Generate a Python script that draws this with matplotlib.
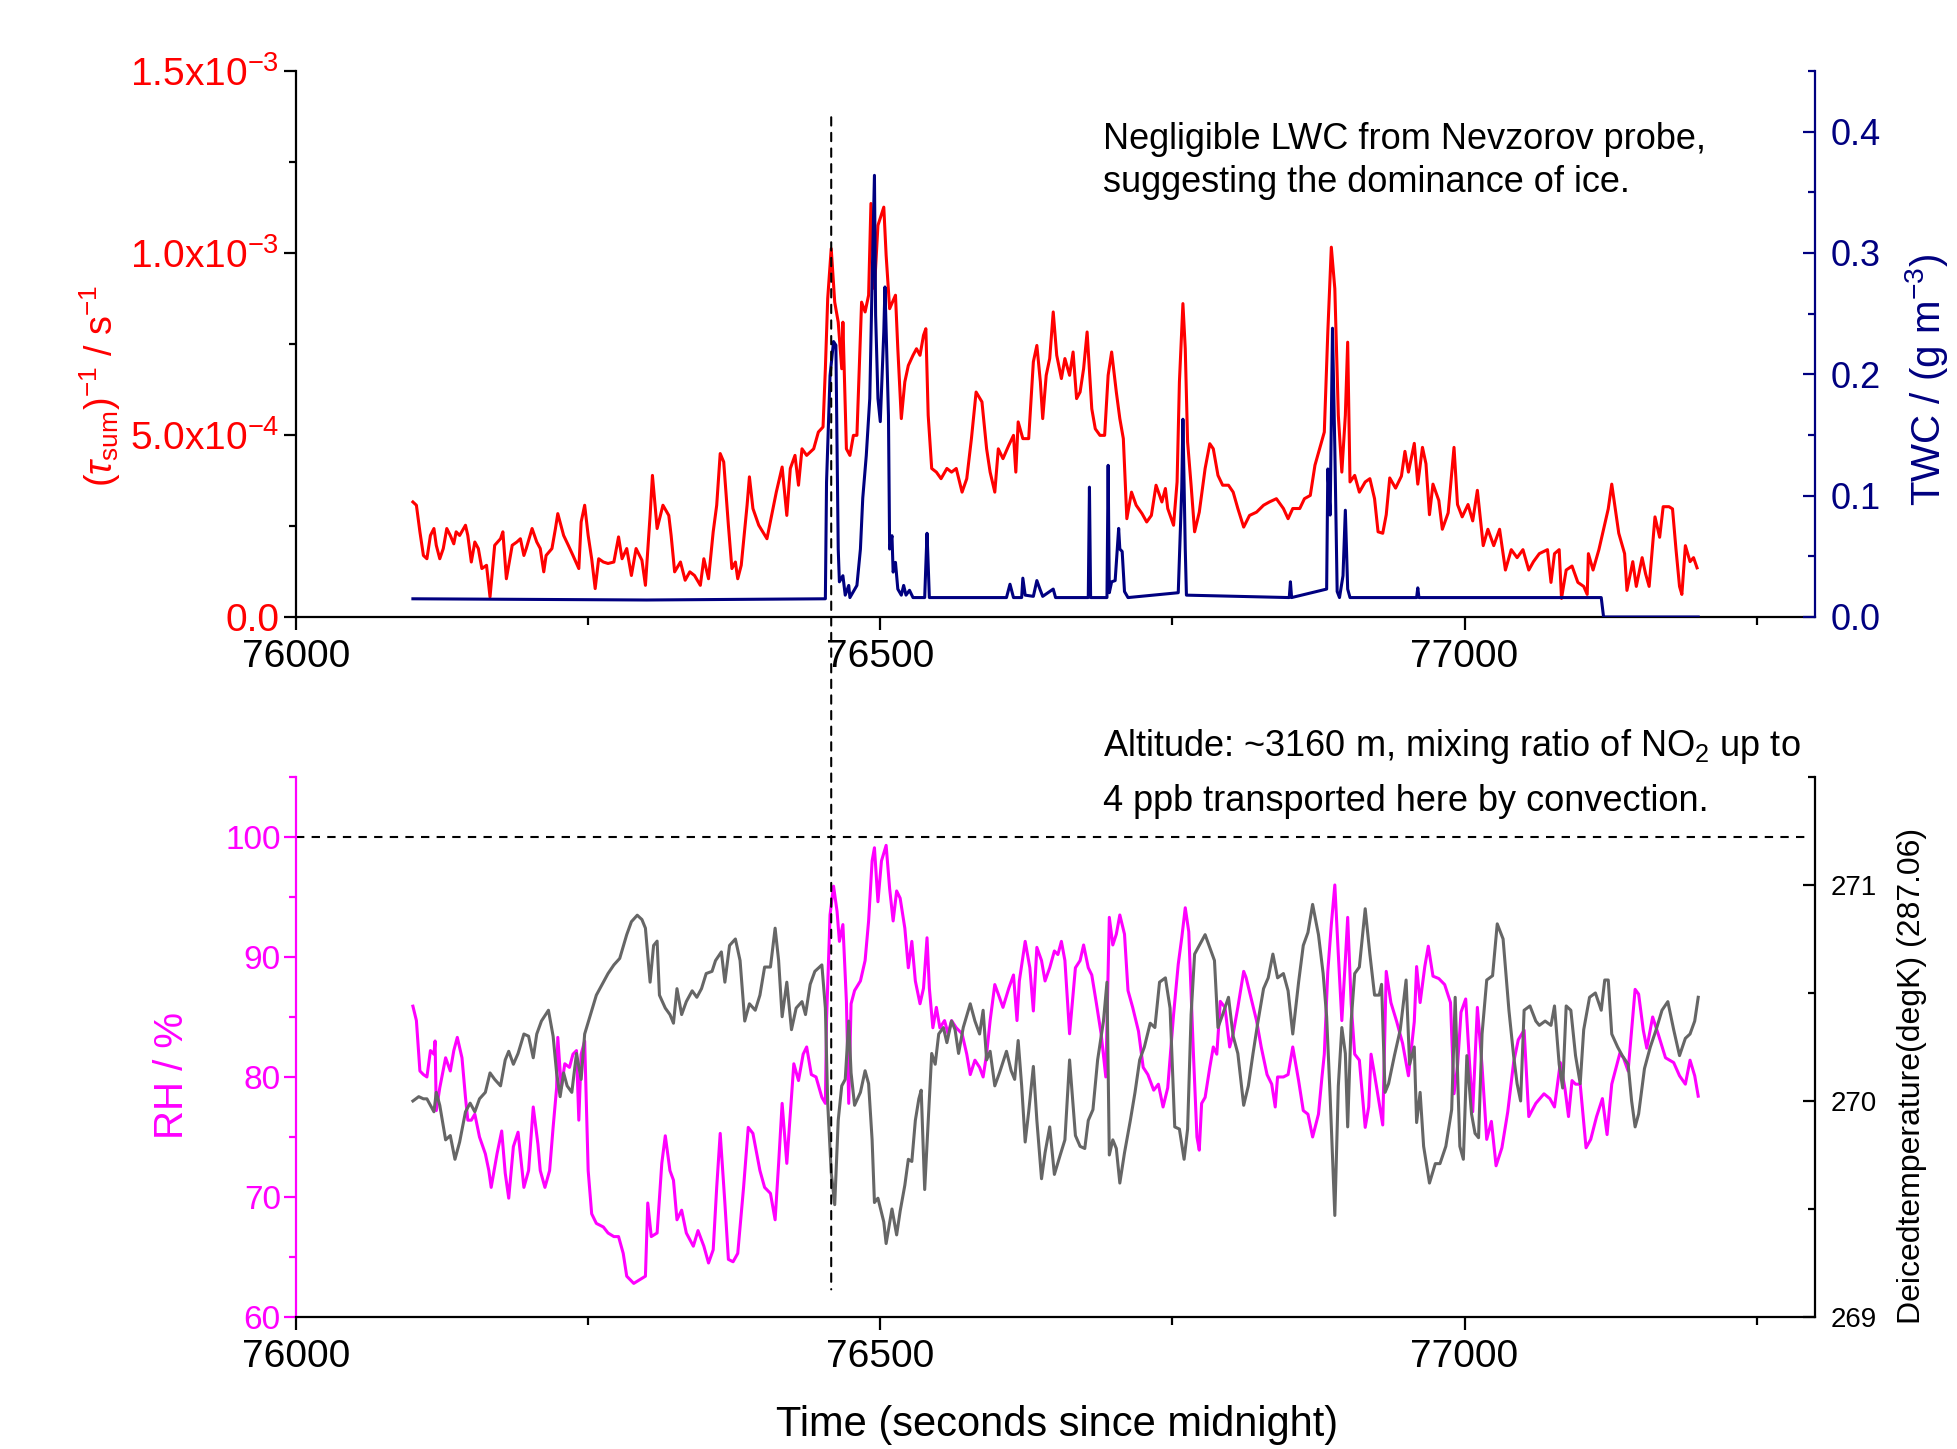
import numpy as np
import matplotlib
matplotlib.use('Agg')
from matplotlib import pyplot as plt
from matplotlib.patches import ConnectionPatch
from matplotlib.ticker import MultipleLocator, FixedLocator, FixedFormatter

plt.rcParams['font.family'] = ['Liberation Sans', 'DejaVu Sans']
plt.rcParams['mathtext.fontset'] = 'custom'
plt.rcParams['mathtext.rm'] = 'Liberation Sans'
plt.rcParams['mathtext.it'] = 'Liberation Sans:italic'
plt.rcParams['mathtext.bf'] = 'Liberation Sans:bold'

RED = '#ff0000'
NAVY = '#000080'
MAGENTA = '#ff00ff'
GREY = '#666666'

# (time s, inverse tau_sum in 1e-4 s^-1)
tau_pts = [
    (76100, 3.16), (76103, 3.07), (76106, 2.34), (76109, 1.69), (76112, 1.60), (76115, 2.24),
    (76118, 2.43), (76120, 1.97), (76123, 1.60), (76126, 1.88), (76129, 2.43), (76132, 2.24),
    (76135, 2.01), (76137, 2.34), (76140, 2.24), (76145, 2.52), (76147, 2.24), (76150, 1.51),
    (76153, 2.06), (76156, 1.88), (76159, 1.33), (76163, 1.42), (76166, 0.55), (76170, 1.97),
    (76175, 2.15), (76177, 2.34), (76180, 1.05), (76185, 1.97), (76189, 2.06), (76192, 2.15),
    (76195, 1.69), (76197, 1.88), (76202, 2.43), (76206, 2.06), (76209, 1.88), (76212, 1.24),
    (76214, 1.69), (76219, 1.88), (76222, 2.43), (76224, 2.84), (76229, 2.24), (76233, 1.97),
    (76237, 1.69), (76242, 1.33), (76244, 2.61), (76247, 3.07), (76250, 2.24), (76253, 1.60),
    (76256, 0.78), (76259, 1.60), (76263, 1.51), (76267, 1.47), (76272, 1.51), (76276, 2.20),
    (76279, 1.60), (76283, 1.88), (76287, 1.14), (76291, 1.88), (76296, 1.56), (76299, 0.87),
    (76303, 2.79), (76305, 3.89), (76309, 2.43), (76314, 3.07), (76319, 2.79), (76321, 2.24),
    (76324, 1.24), (76329, 1.51), (76333, 1.01), (76337, 1.24), (76341, 1.14), (76346, 0.87),
    (76349, 1.60), (76353, 1.05), (76357, 2.34), (76360, 3.07), (76363, 4.49), (76366, 4.26),
    (76370, 2.52), (76373, 1.33), (76376, 1.51), (76378, 1.05), (76381, 1.42), (76386, 3.07),
    (76388, 3.85), (76391, 2.98), (76396, 2.52), (76403, 2.15), (76407, 2.79), (76411, 3.43),
    (76416, 4.12), (76420, 2.79), (76423, 4.08), (76427, 4.44), (76430, 3.62), (76433, 4.62),
    (76437, 4.44), (76443, 4.62), (76447, 5.08), (76451, 5.22), (76453, 6.82), (76455, 8.75),
    (76458, 10.12), (76461, 8.65), (76464, 8.10), (76467, 6.82), (76468, 8.10), (76471, 4.62),
    (76474, 4.44), (76477, 4.99), (76480, 4.99), (76484, 8.65), (76487, 8.38), (76490, 8.84),
    (76492, 11.36), (76495, 9.02), (76498, 10.76), (76503, 11.26), (76505, 9.94), (76508, 8.47),
    (76513, 8.84), (76515, 7.37), (76518, 5.45), (76521, 6.46), (76524, 6.91), (76528, 7.19),
    (76531, 7.37), (76534, 7.19), (76537, 7.74), (76539, 7.92), (76541, 5.54), (76544, 4.08),
    (76548, 3.98), (76552, 3.80), (76557, 4.08), (76561, 3.98), (76565, 4.08), (76570, 3.43),
    (76574, 3.80), (76578, 4.90), (76582, 6.18), (76587, 5.91), (76591, 4.62), (76594, 3.98),
    (76598, 3.43), (76601, 4.62), (76605, 4.35), (76610, 4.72), (76614, 4.99), (76616, 3.98),
    (76618, 5.36), (76622, 4.90), (76627, 4.90), (76631, 7.01), (76634, 7.46), (76637, 6.46),
    (76639, 5.45), (76642, 6.64), (76645, 7.10), (76648, 8.38), (76651, 7.19), (76655, 6.55),
    (76658, 7.10), (76662, 6.64), (76665, 7.28), (76668, 6.00), (76671, 6.18), (76674, 6.82),
    (76677, 7.83), (76681, 5.72), (76684, 5.17), (76688, 4.99), (76692, 4.99), (76695, 6.64),
    (76698, 7.28), (76702, 6.18), (76705, 5.45), (76708, 4.90), (76711, 2.70), (76715, 3.43),
    (76719, 3.07), (76724, 2.84), (76728, 2.61), (76732, 2.79), (76736, 3.62), (76741, 3.16),
    (76744, 3.53), (76746, 2.98), (76751, 2.52), (76754, 3.71), (76756, 6.46), (76759, 8.61),
    (76761, 7.37), (76763, 4.81), (76766, 3.62), (76769, 2.34), (76773, 2.88), (76778, 4.08),
    (76782, 4.76), (76785, 4.62), (76789, 3.89), (76793, 3.62), (76798, 3.62), (76802, 3.43),
    (76806, 2.98), (76811, 2.47), (76816, 2.79), (76822, 2.88), (76828, 3.07), (76833, 3.16),
    (76839, 3.25), (76845, 2.98), (76849, 2.70), (76853, 2.98), (76859, 2.98), (76863, 3.25),
    (76868, 3.34), (76872, 4.17), (76876, 4.62), (76880, 5.08), (76883, 7.83), (76886, 10.16),
    (76889, 9.02), (76892, 5.54), (76895, 3.98), (76898, 5.54), (76900, 7.55), (76902, 3.71),
    (76906, 3.89), (76910, 3.43), (76915, 3.71), (76919, 3.80), (76923, 3.25), (76926, 2.34),
    (76930, 2.30), (76933, 2.81), (76936, 3.82), (76941, 3.54), (76946, 3.87), (76949, 4.55),
    (76952, 3.98), (76957, 4.77), (76960, 3.65), (76964, 4.66), (76967, 4.21), (76970, 2.81),
    (76973, 3.65), (76978, 3.20), (76981, 2.41), (76986, 2.86), (76991, 4.66), (76994, 3.09),
    (76998, 2.75), (77003, 3.09), (77007, 2.64), (77011, 3.48), (77016, 1.96), (77020, 2.41),
    (77025, 1.96), (77030, 2.41), (77035, 1.29), (77040, 1.85), (77045, 1.63), (77050, 1.85),
    (77055, 1.29), (77059, 1.52), (77064, 1.74), (77071, 1.85), (77074, 0.95), (77077, 1.74),
    (77081, 1.85), (77083, 0.51), (77087, 1.29), (77092, 1.40), (77097, 0.95), (77102, 0.84),
    (77105, 0.62), (77106, 1.74), (77110, 1.29), (77115, 1.85), (77119, 2.41), (77123, 2.97),
    (77126, 3.65), (77129, 2.97), (77132, 2.30), (77137, 1.74), (77139, 0.73), (77144, 1.52),
    (77147, 0.84), (77152, 1.63), (77155, 1.18), (77158, 0.84), (77163, 2.75), (77167, 2.19),
    (77170, 3.03), (77175, 3.03), (77178, 2.97), (77181, 1.85), (77184, 0.84), (77186, 0.62),
    (77189, 1.96), (77193, 1.52), (77196, 1.63), (77199, 1.35),
]

# (time s, TWC g m^-3)
twc_pts = [
    (76100, 0.015), (76300, 0.014), (76453, 0.015), (76454, 0.111), (76457, 0.199), (76460, 0.227),
    (76462, 0.224), (76464, 0.056), (76465, 0.029), (76468, 0.034), (76470, 0.018), (76473, 0.026),
    (76474, 0.016), (76477, 0.021), (76480, 0.026), (76483, 0.056), (76485, 0.098), (76488, 0.133),
    (76491, 0.180), (76493, 0.276), (76495, 0.364), (76496, 0.249), (76498, 0.180), (76500, 0.161),
    (76503, 0.235), (76504, 0.272), (76507, 0.166), (76508, 0.056), (76510, 0.067), (76511, 0.037),
    (76513, 0.045), (76515, 0.023), (76518, 0.018), (76520, 0.026), (76522, 0.018), (76525, 0.022),
    (76528, 0.016), (76538, 0.016), (76539, 0.043), (76540, 0.069), (76541, 0.043), (76542, 0.016),
    (76608, 0.016), (76611, 0.027), (76614, 0.016), (76621, 0.016), (76622, 0.032), (76624, 0.018),
    (76631, 0.017), (76634, 0.030), (76637, 0.022), (76639, 0.017), (76648, 0.023), (76650, 0.016),
    (76678, 0.016), (76679, 0.107), (76680, 0.016), (76694, 0.016), (76695, 0.125), (76696, 0.020),
    (76698, 0.029), (76701, 0.030), (76704, 0.073), (76705, 0.056), (76707, 0.054), (76709, 0.021),
    (76712, 0.016), (76755, 0.020), (76758, 0.106), (76759, 0.163), (76761, 0.056), (76762, 0.018),
    (76850, 0.016), (76851, 0.029), (76852, 0.016), (76882, 0.023), (76883, 0.122), (76885, 0.084),
    (76887, 0.238), (76889, 0.139), (76891, 0.021), (76893, 0.016), (76896, 0.034), (76898, 0.088),
    (76900, 0.023), (76902, 0.016), (76959, 0.016), (76960, 0.024), (76961, 0.016), (77117, 0.016),
    (77119, 0.0), (77200, 0.0),
]

# (time s, RH %)
rh_pts = [
    (76100, 85.9), (76103, 84.7), (76106, 80.5), (76109, 80.2), (76112, 80.0), (76115, 82.2),
    (76118, 81.9), (76119, 83.0), (76120, 77.2), (76123, 79.1), (76128, 81.6), (76132, 80.5),
    (76135, 82.2), (76138, 83.3), (76142, 81.6), (76145, 78.3), (76147, 76.4), (76150, 76.4),
    (76153, 76.9), (76157, 75.0), (76162, 73.6), (76165, 72.2), (76167, 70.8), (76172, 73.6),
    (76176, 75.5), (76179, 72.0), (76182, 69.9), (76186, 74.2), (76190, 75.4), (76195, 70.8),
    (76199, 72.2), (76203, 77.5), (76207, 74.4), (76209, 72.2), (76213, 70.8), (76217, 72.2),
    (76220, 75.8), (76223, 79.1), (76224, 83.3), (76227, 79.1), (76230, 81.1), (76234, 80.8),
    (76237, 81.9), (76240, 82.2), (76242, 76.4), (76244, 81.9), (76247, 83.0), (76250, 72.2),
    (76253, 68.6), (76257, 67.8), (76263, 67.5), (76267, 67.0), (76272, 66.7), (76276, 66.7),
    (76280, 65.3), (76283, 63.4), (76289, 62.8), (76294, 63.1), (76299, 63.4), (76301, 69.5),
    (76304, 66.7), (76309, 67.0), (76313, 72.8), (76316, 75.1), (76320, 72.2), (76323, 71.4),
    (76326, 68.1), (76330, 68.9), (76334, 67.0), (76340, 65.9), (76344, 67.2), (76349, 65.9),
    (76353, 64.5), (76357, 65.6), (76360, 70.8), (76363, 75.3), (76367, 69.5), (76370, 64.8),
    (76374, 64.6), (76378, 65.3), (76383, 70.8), (76387, 75.8), (76391, 75.3), (76397, 72.2),
    (76401, 70.8), (76406, 70.3), (76410, 68.1), (76413, 72.8), (76416, 77.8), (76420, 72.8),
    (76423, 76.9), (76426, 81.1), (76430, 79.7), (76434, 81.9), (76437, 82.5), (76441, 80.2),
    (76445, 80.0), (76450, 78.3), (76453, 77.8), (76454, 84.7), (76457, 93.5), (76460, 95.9),
    (76463, 93.8), (76465, 91.3), (76468, 92.7), (76471, 86.3), (76473, 77.8), (76475, 86.1),
    (76478, 87.2), (76483, 88.0), (76487, 89.7), (76490, 93.0), (76493, 98.0), (76495, 99.1),
    (76498, 94.6), (76501, 98.0), (76505, 99.3), (76508, 95.7), (76511, 93.0), (76514, 95.5),
    (76517, 94.9), (76521, 92.4), (76524, 89.1), (76527, 91.3), (76530, 88.0), (76534, 86.1),
    (76537, 87.4), (76540, 91.6), (76542, 87.4), (76545, 84.1), (76548, 85.8), (76551, 84.1),
    (76555, 84.7), (76558, 83.6), (76561, 84.7), (76565, 84.1), (76570, 83.6), (76574, 81.9),
    (76577, 80.2), (76581, 81.4), (76585, 80.8), (76588, 80.0), (76591, 81.9), (76594, 84.7),
    (76598, 87.7), (76601, 86.9), (76605, 85.8), (76610, 87.4), (76614, 88.5), (76617, 84.7),
    (76619, 88.0), (76624, 91.3), (76628, 89.1), (76631, 85.5), (76634, 90.8), (76638, 89.7),
    (76641, 88.0), (76645, 89.1), (76649, 90.5), (76652, 90.2), (76655, 91.3), (76658, 89.7),
    (76662, 83.6), (76667, 89.1), (76671, 89.7), (76674, 91.0), (76678, 89.1), (76681, 88.5),
    (76685, 86.1), (76689, 83.6), (76693, 80.0), (76696, 93.3), (76699, 91.0), (76702, 91.9),
    (76705, 93.5), (76709, 91.9), (76712, 87.2), (76716, 85.8), (76721, 83.8), (76725, 80.8),
    (76729, 80.2), (76734, 78.9), (76738, 79.4), (76742, 77.5), (76746, 79.1), (76751, 85.2),
    (76755, 89.4), (76758, 91.6), (76761, 94.1), (76764, 92.1), (76768, 81.9), (76771, 75.0),
    (76773, 73.9), (76775, 77.8), (76778, 78.3), (76782, 80.8), (76785, 82.5), (76788, 81.9),
    (76791, 86.3), (76795, 85.8), (76799, 82.5), (76802, 83.6), (76806, 85.8), (76811, 88.8),
    (76813, 88.3), (76818, 86.3), (76822, 84.7), (76826, 82.5), (76831, 80.2), (76835, 79.4),
    (76838, 77.5), (76840, 80.0), (76845, 80.0), (76849, 80.2), (76853, 82.5), (76858, 79.7),
    (76862, 77.2), (76866, 76.9), (76870, 75.0), (76875, 76.9), (76878, 80.0), (76880, 81.9),
    (76883, 88.8), (76886, 92.7), (76889, 96.0), (76892, 90.2), (76895, 84.7), (76898, 89.7),
    (76900, 93.3), (76903, 86.1), (76906, 81.9), (76910, 81.4), (76915, 75.8), (76918, 77.5),
    (76920, 81.9), (76923, 80.2), (76927, 77.8), (76930, 76.0), (76933, 88.8), (76937, 86.2),
    (76942, 84.6), (76947, 82.8), (76952, 80.1), (76957, 84.6), (76959, 89.2), (76962, 86.2),
    (76966, 89.2), (76969, 90.9), (76973, 88.4), (76978, 88.2), (76983, 87.7), (76988, 86.2),
    (76991, 78.6), (76994, 80.9), (76997, 85.4), (77001, 86.5), (77004, 81.6), (77007, 77.1),
    (77011, 85.8), (77015, 80.9), (77019, 74.8), (77023, 76.3), (77027, 72.6), (77032, 74.1),
    (77037, 77.1), (77042, 81.2), (77046, 83.1), (77051, 83.9), (77055, 76.7), (77061, 77.8),
    (77068, 78.6), (77073, 78.2), (77077, 77.5), (77082, 81.2), (77086, 79.0), (77089, 76.7),
    (77092, 79.7), (77095, 79.4), (77099, 79.4), (77104, 74.1), (77108, 74.8), (77113, 76.7),
    (77118, 78.2), (77122, 75.2), (77126, 79.4), (77133, 82.0), (77136, 81.6), (77140, 80.5),
    (77143, 83.9), (77146, 87.3), (77149, 86.9), (77153, 83.9), (77156, 82.4), (77161, 85.0),
    (77166, 83.5), (77172, 81.6), (77179, 81.2), (77184, 80.1), (77189, 79.4), (77193, 81.4),
    (77197, 80.1), (77200, 78.4),
]

# (time s, deiced temperature K)
temp_pts = [
    (76100, 270.00), (76105, 270.02), (76109, 270.01), (76112, 270.01), (76115, 269.98),
    (76118, 269.95), (76120, 270.04), (76123, 269.98), (76128, 269.82), (76132, 269.84),
    (76136, 269.73), (76140, 269.81), (76145, 269.95), (76149, 269.99), (76153, 269.95),
    (76157, 270.01), (76162, 270.04), (76166, 270.13), (76170, 270.10), (76175, 270.07),
    (76179, 270.19), (76182, 270.23), (76186, 270.17), (76190, 270.22), (76195, 270.31),
    (76199, 270.30), (76203, 270.20), (76206, 270.31), (76210, 270.37), (76216, 270.42),
    (76220, 270.30), (76223, 270.13), (76226, 270.02), (76229, 270.13), (76232, 270.07),
    (76236, 270.04), (76240, 270.22), (76244, 270.10), (76247, 270.31), (76252, 270.40),
    (76257, 270.49), (76263, 270.55), (76267, 270.59), (76272, 270.63), (76277, 270.66),
    (76283, 270.77), (76287, 270.83), (76292, 270.86), (76296, 270.84), (76299, 270.80),
    (76303, 270.55), (76306, 270.72), (76309, 270.74), (76311, 270.49), (76316, 270.43),
    (76320, 270.40), (76323, 270.36), (76326, 270.52), (76330, 270.40), (76334, 270.46),
    (76339, 270.51), (76343, 270.48), (76347, 270.52), (76351, 270.59), (76356, 270.60),
    (76359, 270.65), (76364, 270.69), (76367, 270.55), (76371, 270.72), (76376, 270.75),
    (76380, 270.65), (76384, 270.37), (76388, 270.45), (76393, 270.42), (76397, 270.49),
    (76401, 270.62), (76406, 270.62), (76410, 270.80), (76413, 270.65), (76416, 270.39),
    (76420, 270.55), (76424, 270.33), (76428, 270.43), (76433, 270.46), (76436, 270.40),
    (76440, 270.54), (76444, 270.60), (76448, 270.62), (76450, 270.63), (76453, 270.43),
    (76455, 269.99), (76458, 269.67), (76461, 269.52), (76464, 269.91), (76467, 270.07),
    (76470, 270.10), (76473, 270.37), (76475, 270.13), (76478, 269.98), (76483, 270.04),
    (76487, 270.14), (76490, 270.08), (76493, 269.82), (76495, 269.53), (76498, 269.55),
    (76503, 269.44), (76505, 269.34), (76510, 269.50), (76514, 269.38), (76517, 269.49),
    (76521, 269.61), (76524, 269.73), (76527, 269.72), (76530, 269.91), (76533, 270.01),
    (76535, 270.05), (76538, 269.59), (76541, 269.91), (76544, 270.22), (76547, 270.17),
    (76550, 270.31), (76554, 270.34), (76557, 270.27), (76561, 270.37), (76564, 270.33),
    (76567, 270.22), (76571, 270.34), (76577, 270.45), (76581, 270.37), (76585, 270.31),
    (76588, 270.42), (76591, 270.19), (76594, 270.23), (76598, 270.07), (76602, 270.13),
    (76608, 270.23), (76612, 270.14), (76615, 270.10), (76618, 270.28), (76621, 270.07),
    (76624, 269.81), (76627, 269.95), (76631, 270.16), (76634, 269.91), (76638, 269.64),
    (76641, 269.76), (76645, 269.88), (76649, 269.66), (76654, 269.75), (76658, 269.82),
    (76662, 270.19), (76667, 269.84), (76671, 269.79), (76675, 269.78), (76678, 269.91),
    (76682, 269.96), (76686, 270.19), (76691, 270.37), (76694, 270.55), (76696, 269.75),
    (76699, 269.82), (76702, 269.78), (76705, 269.62), (76709, 269.76), (76714, 269.91),
    (76718, 270.04), (76722, 270.19), (76726, 270.25), (76731, 270.36), (76735, 270.34),
    (76739, 270.55), (76744, 270.57), (76748, 270.43), (76752, 269.88), (76756, 269.87),
    (76760, 269.73), (76763, 269.87), (76766, 270.40), (76769, 270.68), (76773, 270.72),
    (76778, 270.77), (76782, 270.71), (76786, 270.65), (76789, 270.34), (76793, 270.40),
    (76798, 270.48), (76802, 270.30), (76806, 270.22), (76811, 269.98), (76815, 270.07),
    (76819, 270.22), (76823, 270.36), (76828, 270.52), (76832, 270.57), (76836, 270.68),
    (76840, 270.57), (76845, 270.59), (76849, 270.51), (76853, 270.31), (76858, 270.55),
    (76862, 270.72), (76866, 270.78), (76870, 270.91), (76875, 270.77), (76879, 270.59),
    (76882, 270.39), (76885, 270.02), (76889, 269.47), (76892, 270.07), (76895, 270.34),
    (76898, 270.22), (76900, 269.88), (76903, 270.37), (76906, 270.59), (76910, 270.62),
    (76915, 270.89), (76919, 270.68), (76923, 270.49), (76927, 270.49), (76929, 270.54),
    (76932, 270.04), (76935, 270.08), (76940, 270.21), (76945, 270.33), (76950, 270.56),
    (76953, 270.17), (76957, 270.25), (76959, 269.90), (76962, 270.04), (76965, 269.79),
    (76970, 269.62), (76975, 269.71), (76979, 269.71), (76984, 269.79), (76989, 269.96),
    (76992, 270.48), (76996, 269.79), (76999, 269.73), (77002, 270.21), (77006, 269.94),
    (77009, 269.85), (77012, 269.83), (77015, 270.31), (77019, 270.56), (77024, 270.58),
    (77028, 270.82), (77033, 270.75), (77038, 270.42), (77042, 270.21), (77045, 270.08),
    (77048, 270.00), (77051, 270.42), (77056, 270.44), (77061, 270.37), (77064, 270.35),
    (77069, 270.37), (77074, 270.35), (77077, 270.44), (77081, 270.17), (77084, 270.06),
    (77087, 270.44), (77091, 270.42), (77095, 270.21), (77099, 270.08), (77102, 270.33),
    (77107, 270.48), (77112, 270.50), (77117, 270.42), (77120, 270.56), (77123, 270.56),
    (77126, 270.31), (77131, 270.25), (77135, 270.21), (77140, 270.17), (77143, 270.00),
    (77146, 269.88), (77149, 269.94), (77154, 270.15), (77159, 270.25), (77164, 270.33),
    (77169, 270.42), (77174, 270.46), (77179, 270.33), (77184, 270.21), (77189, 270.29),
    (77193, 270.31), (77197, 270.37), (77200, 270.48),
]

event_t = 76458          # vertical dashed marker
rh_sat = 100             # horizontal dashed marker

tau_t, tau_v = np.array(tau_pts).T
tau_v = tau_v * 1e-4
twc_t, twc_v = np.array(twc_pts).T
rh_t, rh_v = np.array(rh_pts).T
temp_t, temp_v = np.array(temp_pts).T

X_FS = 28
LABEL_FS = 29
LW = 2.2

fig = plt.figure(figsize=(19.58, 14.49), dpi=100)
ax1 = fig.add_axes([0.1512, 0.5742, 0.7758, 0.3768])
ax1r = ax1.twinx()
ax2 = fig.add_axes([0.1512, 0.0911, 0.7758, 0.3727])
ax2r = ax2.twinx()


def style_axes(ax, axr, left_color, right_color, left_tick_color):
    for a in (ax, axr):
        a.spines['top'].set_visible(False)
        for s in a.spines.values():
            s.set_linewidth(1.6)
    ax.spines['right'].set_visible(False)
    axr.spines['left'].set_visible(False)
    axr.spines['bottom'].set_visible(False)
    ax.spines['left'].set_color(left_color)
    ax.spines['bottom'].set_color('black')
    axr.spines['right'].set_color(right_color)
    ax.tick_params(axis='x', which='both', direction='out', width=1.6, colors='black',
                   labelsize=X_FS, pad=7)
    ax.tick_params(axis='x', which='major', length=9)
    ax.tick_params(axis='x', which='minor', length=6)
    ax.tick_params(axis='y', which='both', direction='out', width=1.6, color=left_tick_color,
                   labelcolor=left_color, pad=3)
    ax.tick_params(axis='y', which='major', length=9)
    ax.tick_params(axis='y', which='minor', length=5)
    axr.tick_params(axis='y', which='both', direction='in', width=1.6, color=right_color,
                    labelcolor=right_color, pad=11)
    axr.tick_params(axis='y', which='major', length=9)
    axr.tick_params(axis='y', which='minor', length=5)
    ax.xaxis.set_major_locator(MultipleLocator(500))
    ax.xaxis.set_minor_locator(MultipleLocator(250))
    ax.set_xlim(76000, 77300)


# ---- top panel ----
style_axes(ax1, ax1r, 'black', NAVY, 'black')
ax1.tick_params(axis='y', labelcolor=RED, labelsize=28)
ax1.plot(tau_t, tau_v, color=RED, lw=LW)
ax1r.plot(twc_t, twc_v, color=NAVY, lw=LW)
ax1.set_ylim(0, 1.5e-3)
ax1.yaxis.set_major_locator(FixedLocator([0, 5e-4, 1e-3, 1.5e-3]))
ax1.yaxis.set_major_formatter(FixedFormatter(
    ['0.0', r'5.0x10$^{-4}$', r'1.0x10$^{-3}$', r'1.5x10$^{-3}$']))
ax1.yaxis.set_minor_locator(MultipleLocator(2.5e-4))
ax1r.set_ylim(0, 0.45)
ax1r.yaxis.set_major_locator(FixedLocator([0, 0.1, 0.2, 0.3, 0.4]))
ax1r.yaxis.set_major_formatter(FixedFormatter(['0.0', '0.1', '0.2', '0.3', '0.4']))
ax1r.yaxis.set_minor_locator(MultipleLocator(0.05))
ax1r.tick_params(axis='y', labelsize=26)
ax1.set_ylabel(r'$(\tau_{\mathrm{sum}})^{-1}$ / s$^{-1}$', color=RED, fontsize=27)
ax1.yaxis.set_label_coords(-0.114, 0.423)
ax1r.set_ylabel(r'TWC / (g m$^{-3}$)', color=NAVY, fontsize=LABEL_FS)
ax1r.yaxis.set_label_coords(1.058, 0.434)

# ---- bottom panel ----
style_axes(ax2, ax2r, MAGENTA, 'black', MAGENTA)
ax2.plot(rh_t, rh_v, color=MAGENTA, lw=LW)
ax2r.plot(temp_t, temp_v, color=GREY, lw=LW)
ax2.hlines(rh_sat, 76000, 77293, colors='black', linestyles=(0, (4, 3.5)), lw=1.5)
ax2.set_ylim(60, 105)
ax2.yaxis.set_major_locator(MultipleLocator(10))
ax2.yaxis.set_minor_locator(MultipleLocator(5))
ax2.tick_params(axis='y', labelsize=24, pad=2)
ax2r.set_ylim(269, 271.5)
ax2r.yaxis.set_major_locator(FixedLocator([269, 270, 271]))
ax2r.yaxis.set_minor_locator(MultipleLocator(0.5))
ax2r.tick_params(axis='y', labelsize=20)
ax2.set_ylabel('RH / %', color=MAGENTA, fontsize=LABEL_FS)
ax2.yaxis.set_label_coords(-0.069, 0.448)
ax2r.set_ylabel('Deicedtemperature(degK) (287.06)', color='black', fontsize=23)
ax2r.yaxis.set_label_coords(1.054, 0.446)

# vertical dashed line running through both panels
con = ConnectionPatch(xyA=(event_t, 1.373e-3), coordsA=ax1.transData,
                      xyB=(event_t, 62.3), coordsB=ax2.transData,
                      color='black', lw=1.5, linestyle=(0, (4, 3.5)))
fig.add_artist(con)

fig.text(0.5633, 0.904, 'Negligible LWC from Nevzorov probe,', fontsize=26, va='center')
fig.text(0.5633, 0.8742, 'suggesting the dominance of ice.', fontsize=26, va='center')
fig.text(0.5633, 0.4845, r'Altitude: ~3160 m, mixing ratio of NO$_2$ up to', fontsize=26,
         va='center')
fig.text(0.5633, 0.4466, '4 ppb transported here by convection.', fontsize=26, va='center')
fig.text(0.540, 0.0166, 'Time (seconds since midnight)', fontsize=30,
         ha='center', va='center')

fig.savefig('out.png', dpi=100)
